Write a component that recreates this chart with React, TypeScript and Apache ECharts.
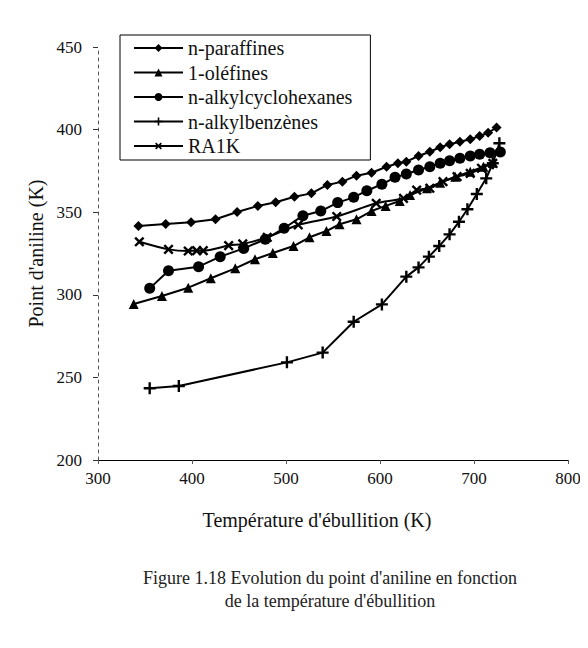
import React, { useEffect, useRef } from "react";
import * as echarts from "echarts";

const paraffinesX = [343, 372, 399, 425, 448, 470, 489, 509, 527, 544, 560, 575, 591, 607, 619, 628, 641, 653, 664, 674, 685, 696, 706, 715, 724];
const paraffinesY = [341.6, 342.9, 343.9, 345.7, 350.1, 353.8, 356, 359.4, 361.4, 366.5, 368.5, 372.1, 373.9, 377.5, 379.6, 380.6, 384, 386.6, 389.3, 391.1, 392.7, 394.1, 396.1, 398.1, 401.2];

const olefinesX = [338, 368, 396, 420, 446, 467, 486, 508, 525, 543, 557, 575, 591, 606, 621, 632, 650, 664, 680, 696, 710, 720];
const olefinesY = [294.4, 299.3, 304.3, 310, 316, 321.5, 325.3, 329.5, 334.8, 338.6, 342.7, 345.7, 350.7, 353.8, 356.8, 360.4, 364.5, 367.9, 371.5, 374.5, 377.5, 380];

const cyclohexanesX = [355, 375, 407, 430, 455, 478, 498, 518, 537, 555, 572, 586, 602, 616, 628, 641, 653, 664, 674, 685, 696, 706, 717, 728];
const cyclohexanesY = [303.9, 314.6, 317, 323.1, 328.1, 333.6, 340.3, 347.9, 350.7, 355.8, 359, 363, 366.9, 371.1, 373.1, 375.5, 377.5, 379.6, 381.2, 382.6, 384, 385.1, 386, 386.4];

const benzenesX = [355, 386, 501, 539, 572, 602, 628, 641, 652, 663, 674, 684, 693, 703, 713, 720, 727];
const benzenesY = [243.4, 244.8, 259.1, 265, 283.7, 294.2, 311, 316.6, 323.1, 329.5, 336.6, 344.2, 351.8, 361, 370.5, 379.6, 391.7];

const ra1kX = [344, 375, 396, 405, 412, 439, 454, 480, 513, 554, 596, 625, 639, 653, 667, 682, 696, 708, 720];
const ra1kY = [332.1, 327.5, 326.5, 326.7, 326.7, 329.8, 330.8, 334.8, 342.3, 347.4, 355.4, 358.4, 363.4, 364.5, 368.5, 371.5, 373.5, 376.6, 379.6];

const seriesNames = ["n-paraffines", "1-oléfines", "n-alkylcyclohexanes", "n-alkylbenzènes", "RA1K"];
const xTicks = [300, 400, 500, 600, 700, 800];
const yTicks = [200, 250, 300, 350, 400, 450];
const caption = ["Figure 1.18 Evolution du point d'aniline en fonction", "de la température d'ébullition"];

const PLUS = "path://M4,0h2v4h4v2h-4v4h-2v-4h-4v-2h4z";

function pairs(xs: number[], ys: number[]) {
  return xs.map((x, i) => [x, ys[i]]);
}

export default function App() {
  const ref = useRef<HTMLDivElement>(null);
  useEffect(() => {
    if (!ref.current) return;
    const chart = echarts.init(ref.current, null, { renderer: "svg" });
    const font = "Liberation Serif";
    const base = {
      type: "line",
      lineStyle: { color: "#000", width: 2 },
      itemStyle: { color: "#000" },
      showSymbol: true,
    };
    chart.setOption({
      animation: false,
      backgroundColor: "#fff",
      textStyle: { fontFamily: font },
      grid: { left: 98, right: 20, top: 47, bottom: 188 },
      legend: {
        orient: "vertical",
        left: 120,
        top: 35,
        itemWidth: 49,
        itemHeight: 10,
        itemGap: 4.5,
        padding: [3, 18, 4, 13],
        borderColor: "#000",
        borderWidth: 1,
        textStyle: { fontFamily: font, fontSize: 20, color: "#111" },
        data: seriesNames,
      },
      xAxis: {
        type: "value",
        min: xTicks[0],
        max: xTicks[xTicks.length - 1],
        interval: 100,
        name: "Température d'ébullition (K)",
        nameLocation: "middle",
        nameGap: 50,
        nameTextStyle: { fontFamily: font, fontSize: 20, color: "#111", padding: [0, 32, 0, 0] },
        axisLine: { lineStyle: { color: "#000", width: 1 } },
        axisTick: { show: true, length: 4, lineStyle: { color: "#555" } },
        axisLabel: { fontFamily: font, fontSize: 17, color: "#111", margin: 10 },
        splitLine: { show: false },
      },
      yAxis: {
        type: "value",
        min: yTicks[0],
        max: yTicks[yTicks.length - 1],
        interval: 50,
        name: "Point d'aniline (K)",
        nameLocation: "middle",
        nameGap: 50,
        nameTextStyle: { fontFamily: font, fontSize: 20, color: "#111" },
        axisLine: { show: true, lineStyle: { color: "#555", width: 1, type: [3, 4] } },
        axisTick: { show: true, length: 5, lineStyle: { color: "#333" } },
        axisLabel: { fontFamily: font, fontSize: 17, color: "#111", margin: 16 },
        splitLine: { show: false },
      },
      series: [
        { ...base, name: seriesNames[0], symbol: "diamond", symbolSize: 10, data: pairs(paraffinesX, paraffinesY) },
        { ...base, name: seriesNames[1], symbol: "triangle", symbolSize: 10, data: pairs(olefinesX, olefinesY) },
        { ...base, name: seriesNames[2], symbol: "circle", symbolSize: 11, data: pairs(cyclohexanesX, cyclohexanesY) },
        { ...base, name: seriesNames[3], symbol: PLUS, symbolSize: 12, data: pairs(benzenesX, benzenesY) },
        { ...base, name: seriesNames[4], symbol: PLUS, symbolRotate: 45, symbolSize: 12, smooth: 0.3, data: pairs(ra1kX, ra1kY) },
      ],
      graphic: [
        {
          type: "text",
          x: 330,
          y: 578,
          style: { text: caption[0], fontFamily: font, fontSize: 18, fill: "#222", textAlign: "center", textVerticalAlign: "middle" },
        },
        {
          type: "text",
          x: 330,
          y: 601,
          style: { text: caption[1], fontFamily: font, fontSize: 18, fill: "#222", textAlign: "center", textVerticalAlign: "middle" },
        },
      ],
    });
    return () => chart.dispose();
  }, []);
  return <div ref={ref} style={{ width: 588, height: 648, margin: -8 }} />;
}
